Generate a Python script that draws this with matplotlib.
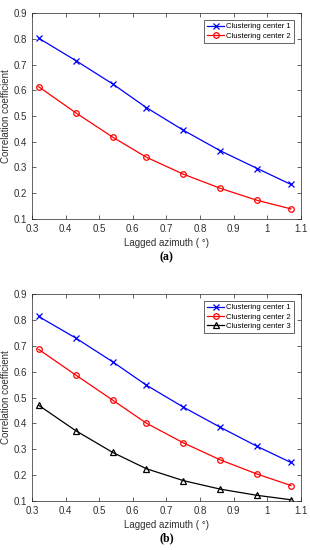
import matplotlib
matplotlib.use("Agg")
import matplotlib.pyplot as plt

plt.rcParams['font.family'] = ['Liberation Sans', 'DejaVu Sans']

# lagged azimuth (degrees)
lag = [0.32, 0.43, 0.54, 0.64, 0.75, 0.86, 0.97, 1.07]

# (a) two clustering centers
a_c1 = [0.803, 0.716, 0.625, 0.533, 0.445, 0.365, 0.296, 0.234]
a_c2 = [0.614, 0.513, 0.418, 0.340, 0.274, 0.219, 0.172, 0.139]

# (b) three clustering centers
b_c1 = [0.813, 0.730, 0.638, 0.548, 0.463, 0.385, 0.311, 0.249]
b_c2 = [0.686, 0.587, 0.490, 0.401, 0.325, 0.259, 0.204, 0.160]
b_c3 = [0.470, 0.372, 0.288, 0.225, 0.179, 0.146, 0.122, 0.105]

xticks = [0.3, 0.4, 0.5, 0.6, 0.7, 0.8, 0.9, 1.0, 1.1]
xticklabels = ['0.3', '0.4', '0.5', '0.6', '0.7', '0.8', '0.9', '1', '1.1']
yticks = [0.1, 0.2, 0.3, 0.4, 0.5, 0.6, 0.7, 0.8, 0.9]


def style_axes(ax):
    ax.set_xlim(0.3, 1.1)
    ax.set_ylim(0.1, 0.9)
    ax.set_xticks(xticks)
    ax.set_xticklabels(xticklabels)
    ax.set_yticks(yticks)
    ax.tick_params(direction='in', top=True, right=True, labelsize=7,
                   length=3, width=0.5, colors='#262626', labelcolor='#303030')
    for s in ax.spines.values():
        s.set_linewidth(0.5)
        s.set_color('#262626')
    ax.set_xlabel('Lagged azimuth ( °)', fontsize=7, color='#303030', labelpad=3)
    ax.set_ylabel('Correlation coefficient', fontsize=7, color='#303030', labelpad=2)
    ax.legend(loc='upper right', fontsize=5.5, frameon=True, fancybox=False,
              edgecolor='#262626', framealpha=1, borderpad=0.4,
              handlelength=2.2, handletextpad=0.3, labelspacing=0.25,
              borderaxespad=0.9).get_frame().set_linewidth(0.5)


fig = plt.figure(figsize=(3.1, 5.5), dpi=100)

ax1 = fig.add_axes([0.103, 0.602, 0.868, 0.374])
ax1.plot(lag, a_c1, '-x', color='#0000ff', lw=0.9, ms=4, mew=0.9, label='Clustering center 1')
ax1.plot(lag, a_c2, '-o', color='#ff0000', lw=0.9, ms=4, mew=0.9, mfc='none', label='Clustering center 2')
style_axes(ax1)
fig.text(0.537, 1 - 257 / 550, '(a)', ha='center', va='center', fontsize=8.5,
         family='Liberation Serif', fontweight='bold')

ax2 = fig.add_axes([0.103, 0.089, 0.868, 0.3765])
ax2.plot(lag, b_c1, '-x', color='#0000ff', lw=0.9, ms=4, mew=0.9, label='Clustering center 1')
ax2.plot(lag, b_c2, '-o', color='#ff0000', lw=0.9, ms=4, mew=0.9, mfc='none', label='Clustering center 2')
ax2.plot(lag, b_c3, '-^', color='black', lw=0.9, ms=4, mew=0.9, mfc='none', label='Clustering center 3')
style_axes(ax2)
fig.text(0.537, 1 - 538 / 550, '(b)', ha='center', va='center', fontsize=8.5,
         family='Liberation Serif', fontweight='bold')

fig.savefig('out.png', dpi=100)
